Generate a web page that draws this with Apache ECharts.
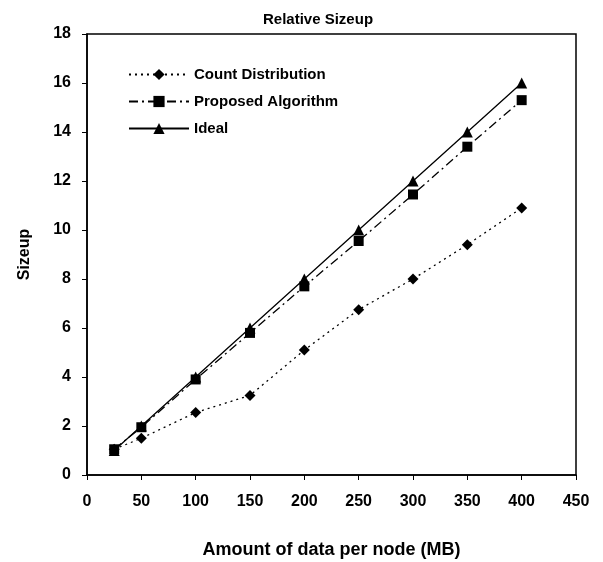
<!DOCTYPE html>
<html>
<head>
<meta charset="utf-8">
<script src="https://cdn.jsdelivr.net/npm/echarts@6/dist/echarts.min.js"></script>
<style>
  html, body { margin: 0; padding: 0; background: #fff; }
  #chart { width: 603px; height: 562px; }
</style>
</head>
<body>
<div id="chart"></div>
<script>
const dataSizes = [25, 50, 100, 150, 200, 250, 300, 350, 400];
const countDistribution = [1.05, 1.5, 2.55, 3.25, 5.1, 6.75, 8.0, 9.4, 10.9];
const proposedAlgorithm = [1.05, 1.95, 3.9, 5.8, 7.7, 9.55, 11.45, 13.4, 15.3];
const ideal = [1, 2, 4, 6, 8, 10, 12, 14, 16];

function pairs(ys) {
  return dataSizes.map((x, i) => [x, ys[i]]);
}

document.addEventListener("DOMContentLoaded", function () {
  let chart = echarts.init(document.getElementById("chart"), null, {
    renderer: "canvas",
  });
  const font = "'Liberation Sans', Arial, sans-serif";
  let option = {
    animation: false,
    backgroundColor: "#fff",
    textStyle: { fontFamily: font },
    title: {
      text: "Relative Sizeup",
      left: 258,
      top: 7,
      textStyle: {
        fontSize: 15,
        fontWeight: "bold",
        color: "#000",
        fontFamily: font,
      },
    },
    legend: {
      orient: "vertical",
      left: 123,
      top: 62,
      itemGap: 12,
      itemWidth: 60,
      itemHeight: 14,
      textStyle: {
        fontSize: 15,
        fontWeight: "bold",
        color: "#000",
        fontFamily: font,
      },
      data: ["Count Distribution", "Proposed Algorithm", "Ideal"],
    },
    grid: {
      left: 87,
      right: 27,
      top: 34,
      bottom: 87,
      outerBoundsMode: "none",
      containLabel: false,
      show: true,
      borderColor: "#000",
      borderWidth: 1.5,
    },
    xAxis: {
      type: "value",
      min: 0,
      max: 450,
      interval: 50,
      name: "Amount of data per node (MB)",
      nameLocation: "middle",
      nameGap: 66,
      nameTextStyle: {
        fontSize: 18,
        fontWeight: "bold",
        color: "#000",
        fontFamily: font,
      },
      axisLine: { show: true, lineStyle: { color: "#000", width: 1.5 } },
      axisTick: { show: true, length: 5, lineStyle: { color: "#000" } },
      axisLabel: {
        margin: 19,
        fontSize: 16,
        fontWeight: "bold",
        color: "#000",
        fontFamily: font,
      },
      splitLine: { show: false },
    },
    yAxis: {
      type: "value",
      min: 0,
      max: 18,
      interval: 2,
      name: "Sizeup",
      nameLocation: "middle",
      nameGap: 54,
      nameTextStyle: {
        fontSize: 16,
        fontWeight: "bold",
        color: "#000",
        fontFamily: font,
      },
      axisLine: { show: true, lineStyle: { color: "#000", width: 1.5 } },
      axisTick: { show: true, length: 5, lineStyle: { color: "#000" } },
      axisLabel: {
        margin: 16,
        fontSize: 16,
        fontWeight: "bold",
        color: "#000",
        fontFamily: font,
      },
      splitLine: { show: false },
    },
    series: [
      {
        name: "Count Distribution",
        type: "line",
        data: pairs(countDistribution),
        symbol: "diamond",
        symbolSize: 11,
        itemStyle: { color: "#000" },
        lineStyle: { color: "#000", width: 1.3, type: [2, 4] },
      },
      {
        name: "Proposed Algorithm",
        type: "line",
        data: pairs(proposedAlgorithm),
        symbol: "rect",
        symbolSize: 10,
        itemStyle: { color: "#000" },
        lineStyle: { color: "#000", width: 1.3, type: [9, 4, 2, 4] },
      },
      {
        name: "Ideal",
        type: "line",
        data: pairs(ideal),
        symbol: "triangle",
        symbolSize: 11,
        itemStyle: { color: "#000" },
        lineStyle: { color: "#000", width: 1.3, type: "solid" },
      },
    ],
  };
  option && chart.setOption(option);
});
</script>
</body>
</html>
